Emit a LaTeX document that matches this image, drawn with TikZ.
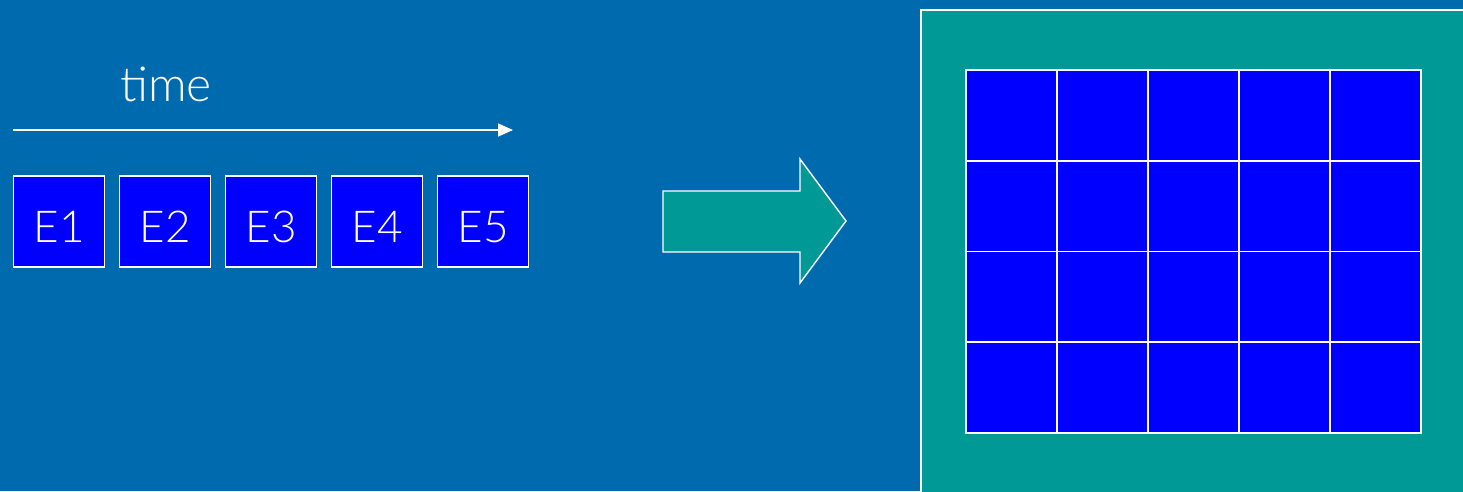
\documentclass[tikz,border=0pt]{standalone}
\usepackage{fontspec}
\setmainfont{Lato}[UprightFont=* Light]
\usetikzlibrary{arrows.meta}
\definecolor{bgblue}{RGB}{0,106,174}
\definecolor{teal}{RGB}{0,153,150}
\definecolor{cellblue}{RGB}{0,0,255}
\tikzset{
  event/.style={draw=white, line width=1.6pt, fill=cellblue, minimum width=91pt,
    minimum height=91pt, inner sep=0pt, text height=42pt, text depth=0pt,
    text=white, font=\fontsize{44}{44}\selectfont},
  cell/.style={draw=white, line width=1.6pt, fill=cellblue},
}
\begin{document}
\begin{tikzpicture}[x=1pt, y=-1pt]
  % page and background
  \fill[bgblue] (0,0) rectangle (1463,491);
  \useasboundingbox (0,0) rectangle (1463,491);

  % time axis
  \node[text=white, font=\fontsize{48}{48}\selectfont, anchor=base] (tlabel) at (166,101) {time};
  \coordinate (tstart) at (13,130);
  \coordinate (tend) at (513,130);
  \draw[white, line width=1.6pt, -{Triangle[length=15pt,width=13pt]}] (tstart) -- (tend);

  % events along the time axis
  \foreach \i in {1,...,5} {
    \node[event] (e\i) at ({59+106*(\i-1)},221.5) {E\i};
  }

  % block arrow
  \draw[white, line width=1.4pt, fill=teal]
    (663,191) -- (800,191) -- (800,159) -- (846,221) -- (800,283) -- (800,252) -- (663,252) -- cycle;

  % grid panel
  \draw[white, line width=1.6pt, fill=teal] (921,10) rectangle (1470,500);
  \foreach \c in {0,...,4} {
    \foreach \r in {0,...,3} {
      \draw[cell] ({966+91*\c},{70+90.75*\r}) rectangle ++(91,90.75);
    }
  }
\end{tikzpicture}
\end{document}
